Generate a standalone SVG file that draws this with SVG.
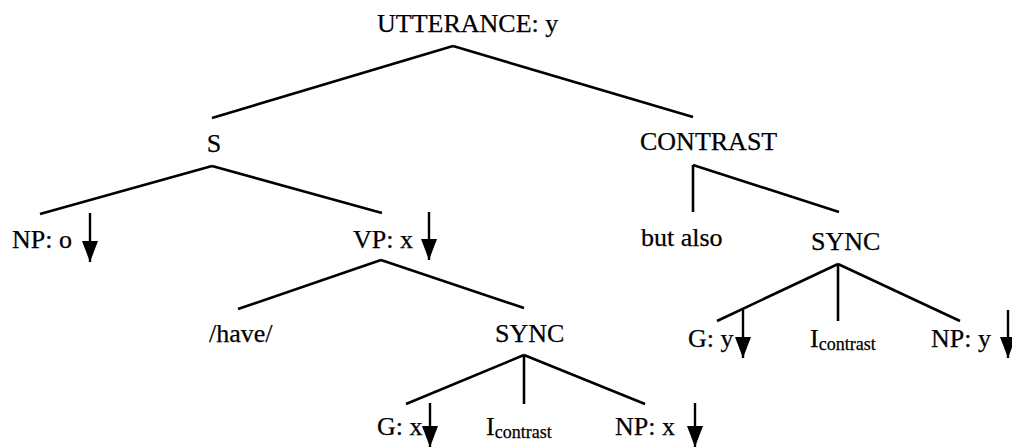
<svg xmlns="http://www.w3.org/2000/svg" width="1012" height="448" viewBox="0 0 1012 448">
<style>
text{font-family:"Liberation Serif","Times New Roman",serif;font-size:26px;fill:#000;stroke:#000;stroke-width:0.25}
.sub{font-size:18px}
.e{stroke:#000;stroke-width:2.6;fill:none}
.a{stroke:#000;stroke-width:2.4;fill:none;marker-end:url(#ah)}
</style>
<defs>
<marker id="ah" markerUnits="userSpaceOnUse" markerWidth="22" markerHeight="17" viewBox="0 0 22 17" refX="21" refY="8.5" orient="auto">
<path d="M0,0.5 L21,8.5 L0,16.5 z" fill="#000"/>
</marker>
</defs>
<g id="connectors">
<line class="e" x1="453" y1="46" x2="212" y2="118"/>
<line class="e" x1="453" y1="46" x2="693" y2="117"/>
<line class="e" x1="212" y1="166" x2="40" y2="214"/>
<line class="e" x1="212" y1="166" x2="382" y2="213"/>
<line class="e" x1="381" y1="260" x2="238" y2="309"/>
<line class="e" x1="381" y1="260" x2="524" y2="308"/>
<line class="e" x1="524" y1="355" x2="406" y2="404"/>
<line class="e" x1="524" y1="355" x2="524" y2="404"/>
<line class="e" x1="524" y1="355" x2="645" y2="404"/>
<line class="e" x1="693" y1="165" x2="693" y2="212"/>
<line class="e" x1="693" y1="165" x2="839" y2="212"/>
<line class="e" x1="838" y1="264" x2="717" y2="321"/>
<line class="e" x1="838" y1="264" x2="838" y2="321"/>
<line class="e" x1="838" y1="264" x2="960" y2="321"/>
</g>
<g id="utterance"><text x="377" y="32">UTTERANCE: y</text></g>
<g id="s"><text x="214" y="152" text-anchor="middle">S</text></g>
<g id="contrast"><text x="640" y="150">CONTRAST</text></g>
<g id="np-o"><text x="12" y="248">NP: o</text><line class="a" x1="90" y1="213" x2="90" y2="262"/></g>
<g id="vp-x"><text x="353" y="248">VP: x</text><line class="a" x1="429" y1="212" x2="429" y2="260"/></g>
<g id="but-also"><text x="641" y="246">but also</text></g>
<g id="sync-right"><text x="811" y="250">SYNC</text></g>
<g id="have"><text x="209" y="342">/have/</text></g>
<g id="sync-left"><text x="495" y="342">SYNC</text></g>
<g id="g-x"><text x="377" y="435">G: x</text><line class="a" x1="430" y1="403" x2="430" y2="447"/></g>
<g id="i-contrast-left"><text x="486" y="435">I<tspan class="sub" dy="3">contrast</tspan></text></g>
<g id="np-x"><text x="615" y="435">NP: x</text><line class="a" x1="695" y1="403" x2="695" y2="447"/></g>
<g id="g-y"><text x="688" y="347">G: y</text><line class="a" x1="743" y1="310" x2="743" y2="358"/></g>
<g id="i-contrast-right"><text x="810" y="347">I<tspan class="sub" dy="3">contrast</tspan></text></g>
<g id="np-y"><text x="931" y="347">NP: y</text><line class="a" x1="1008" y1="310" x2="1008" y2="358"/></g>
</svg>
